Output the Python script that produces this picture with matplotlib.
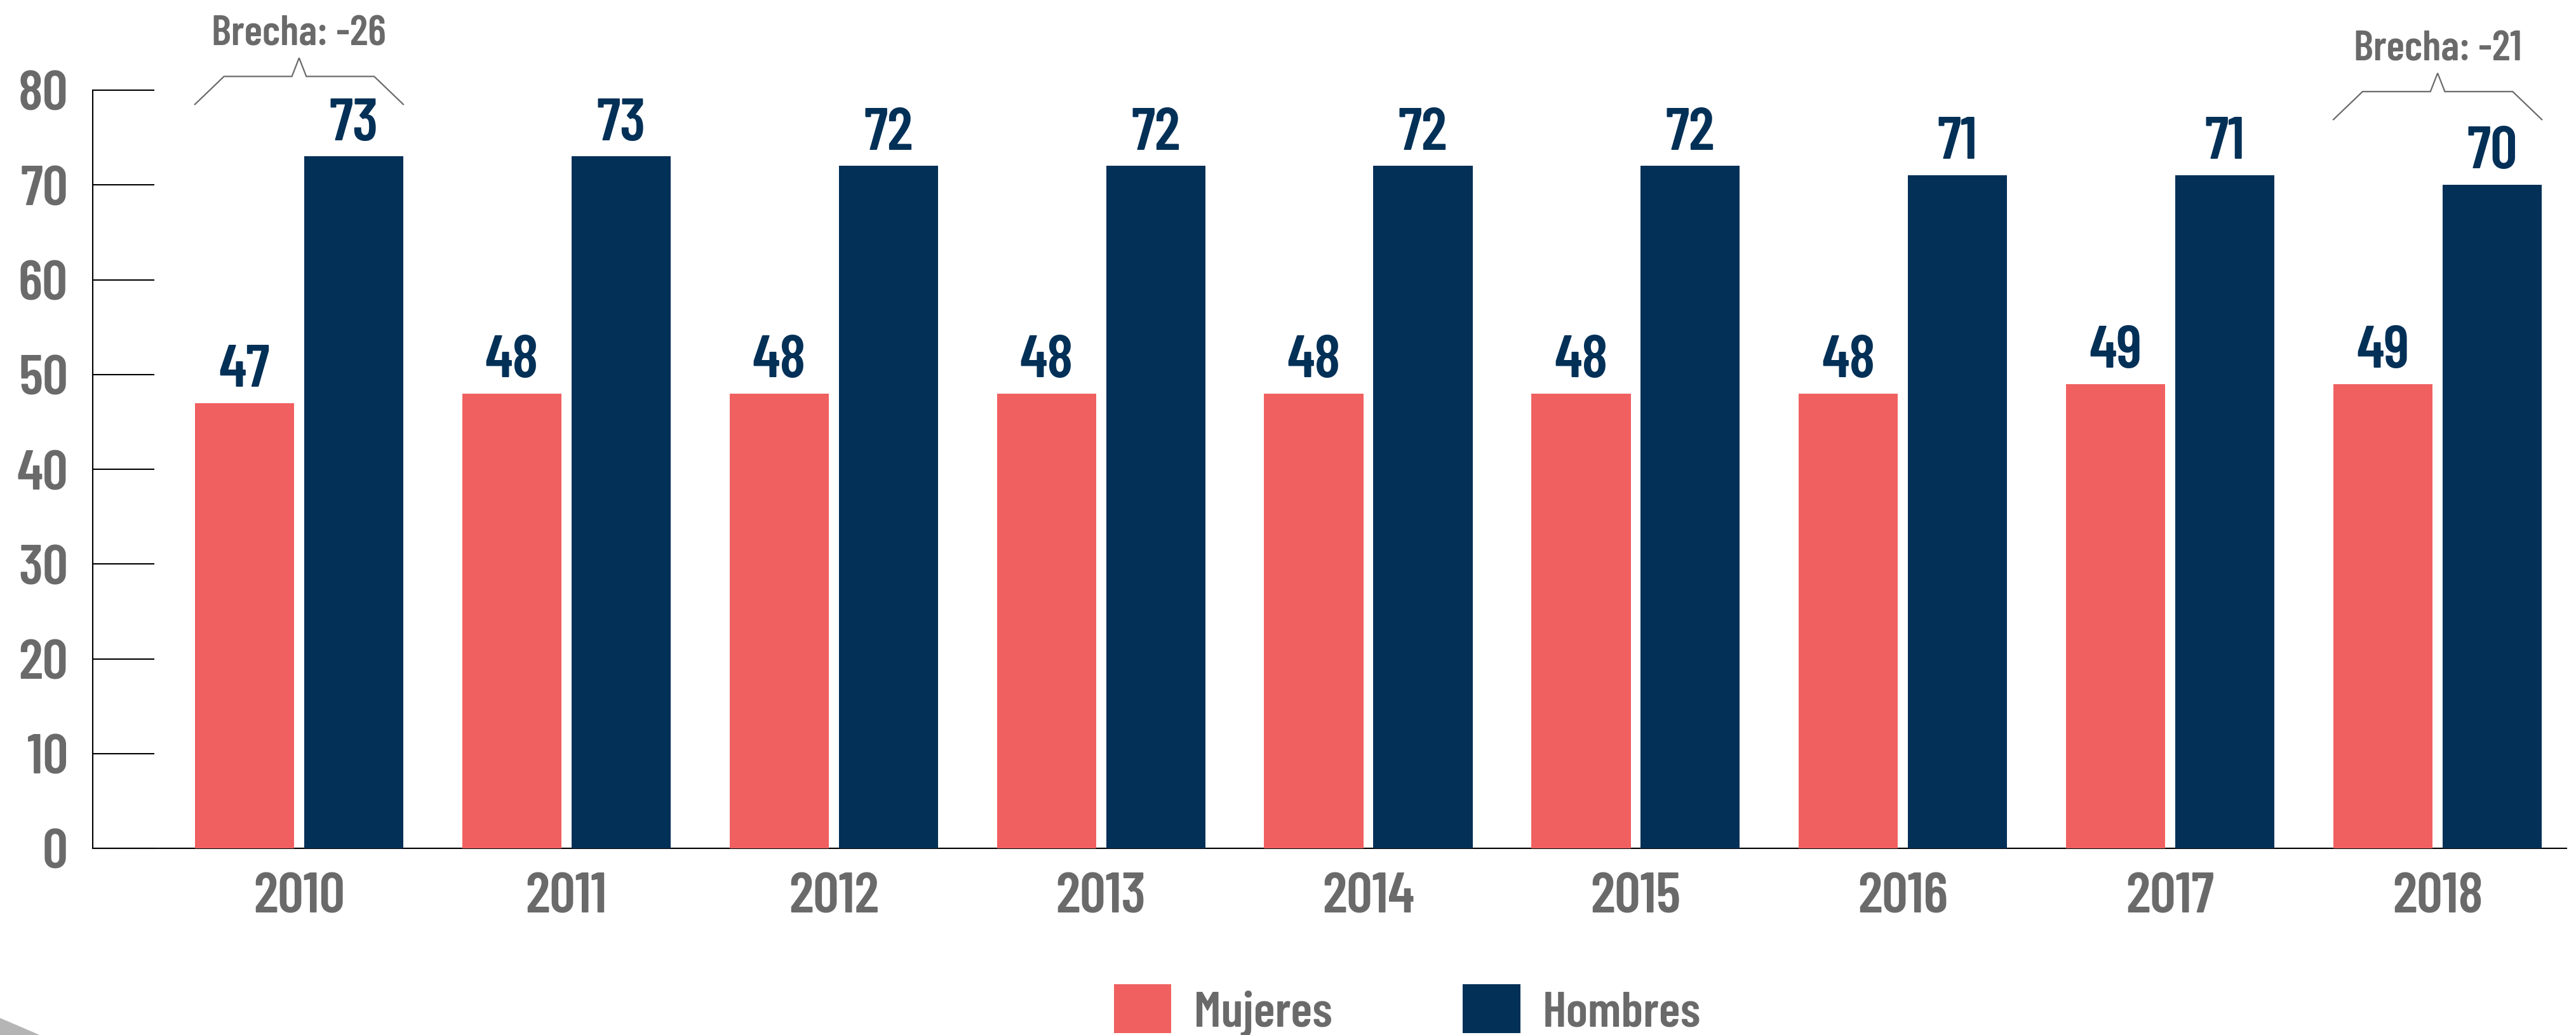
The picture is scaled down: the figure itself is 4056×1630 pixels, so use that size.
import numpy as np
import matplotlib
matplotlib.use('Agg')
import matplotlib.pyplot as plt
from matplotlib import font_manager
from matplotlib.patches import Polygon

# --- data -------------------------------------------------------------
years = ['2010', '2011', '2012', '2013', '2014', '2015', '2016', '2017', '2018']
mujeres = [47, 48, 48, 48, 48, 48, 48, 49, 49]
hombres = [73, 73, 72, 72, 72, 72, 71, 71, 70]
brechas = {0: 'Brecha: -26', 8: 'Brecha: -21'}
yticks = [0, 10, 20, 30, 40, 50, 60, 70, 80]

# --- style ------------------------------------------------------------
names = {f.name for f in font_manager.fontManager.ttflist}
FONT = 'Barlow Condensed' if 'Barlow Condensed' in names else 'DejaVu Sans'
plt.rcParams['font.family'] = [FONT, 'DejaVu Sans']

C_MUJ = '#F06060'
C_HOM = '#023057'
C_TXT = '#6A6A6A'

W = 0.371     # bar width
OFF = 0.2043  # half distance between bar centres

fig = plt.figure(figsize=(40.56, 16.31), dpi=100)
ax = fig.add_axes([146 / 4056, 1 - 1337 / 1631, (4041 - 146) / 4056, (1337 - 143) / 1631])

x = np.arange(len(years))
b1 = ax.bar(x - OFF, mujeres, W, color=C_MUJ, label='Mujeres', zorder=3)
b2 = ax.bar(x + OFF, hombres, W, color=C_HOM, label='Hombres', zorder=3)

for xi, v in zip(x, mujeres):
    ax.text(xi - OFF, v + 1.8, str(v), ha='center', va='baseline',
            fontsize=68, fontweight=600, color=C_HOM)
for xi, v in zip(x, hombres):
    ax.text(xi + OFF, v + 1.8, str(v), ha='center', va='baseline',
            fontsize=68, fontweight=600, color=C_HOM)

# brace annotations over first and last year
brace_y = {0: 78.5, 8: 76.9}
for i, label in brechas.items():
    left = i - OFF - W / 2
    right = i + OFF + W / 2
    y0 = brace_y[i]
    dx, dy = 0.109, 2.95         # diagonal run / rise
    pk_w, pk_h = 0.027, 1.95     # central peak
    bx = [left, left + dx, i - pk_w, i, i + pk_w, right - dx, right]
    by = [y0, y0 + dy, y0 + dy, y0 + dy + pk_h, y0 + dy, y0 + dy, y0]
    ax.plot(bx, by, color=C_TXT, linewidth=1.6, clip_on=False,
            solid_joinstyle='miter', zorder=4)
    ax.text(i, y0 + dy + pk_h + 1.4, label, ha='center', va='baseline',
            fontsize=48, fontweight=600, color=C_TXT, clip_on=False)

ax.set_xlim(-0.772, 8.482)
ax.set_ylim(0, 80)
ax.set_yticks(yticks)
ax.set_yticklabels([str(t) for t in yticks])
ax.set_xticks(x)
ax.set_xticklabels(years)

for s in ('top', 'right'):
    ax.spines[s].set_visible(False)
for s in ('left', 'bottom'):
    ax.spines[s].set_linewidth(1.5)
    ax.spines[s].set_color('black')

ax.tick_params(axis='y', direction='in', length=70, width=1.5, color='black',
               pad=28, labelsize=64, labelcolor=C_TXT)
ax.tick_params(axis='x', length=0, pad=27, labelsize=65, labelcolor=C_TXT)
for lab in ax.get_xticklabels() + ax.get_yticklabels():
    lab.set_fontweight(600)

leg = fig.legend(handles=[b1, b2], loc='center left',
                 bbox_to_anchor=(1754 / 4056, 1 - 1592 / 1631),
                 ncol=2, frameon=False, borderpad=0, borderaxespad=0,
                 handlelength=1.14, handleheight=1.12, handletextpad=0.45,
                 columnspacing=2.6,
                 prop={'family': [FONT, 'DejaVu Sans'], 'size': 57, 'weight': 600})
for t in leg.get_texts():
    t.set_color(C_TXT)

# small grey corner wedge (decoration at the bottom-left edge)
fig.patches.append(Polygon([[0, 0], [0, 0.016], [0.015, 0]], closed=True,
                           transform=fig.transFigure, color='#B5B5B5'))

fig.savefig('out.png', dpi=100)
